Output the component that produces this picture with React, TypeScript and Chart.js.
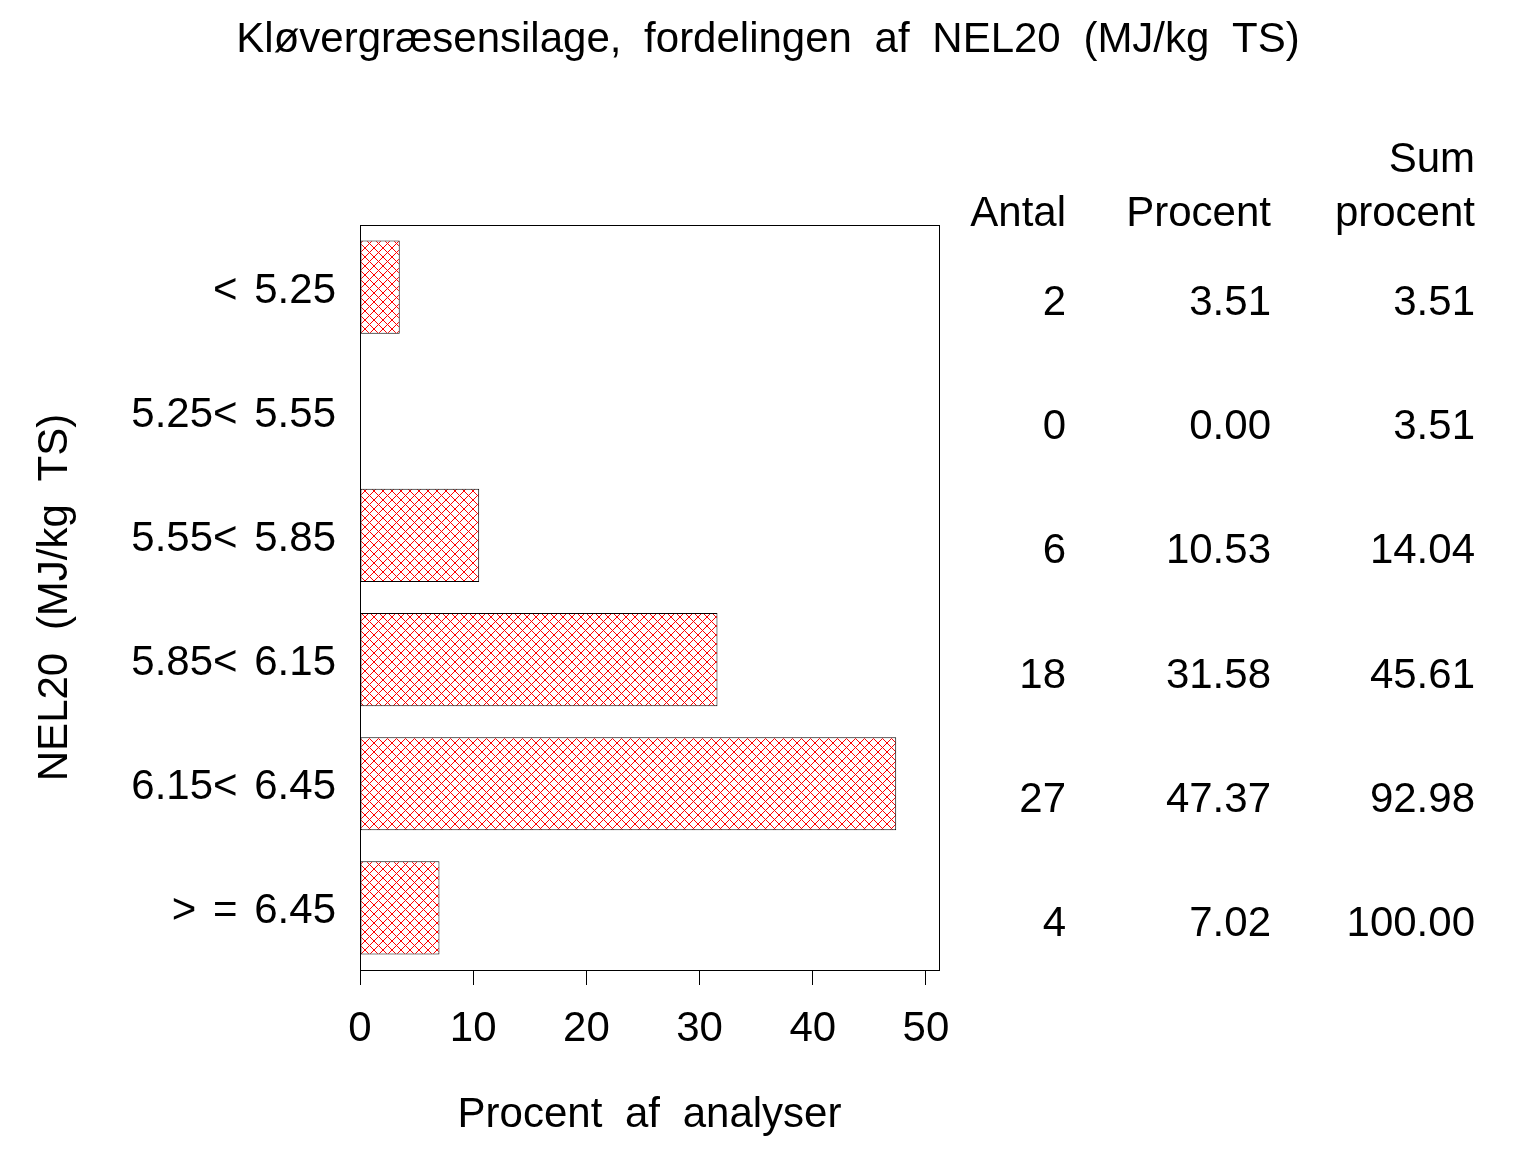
import React, { useEffect, useRef } from 'react';
import { Chart, registerables } from 'chart.js';

Chart.register(...registerables);

const titleText = 'Kløvergræsensilage, fordelingen af NEL20 (MJ/kg TS)';
const categories = ['< 5.25', '5.25< 5.55', '5.55< 5.85', '5.85< 6.15', '6.15< 6.45', '> = 6.45'];
const antal = [2, 0, 6, 18, 27, 4];
const procent = [3.51, 0.0, 10.53, 31.58, 47.37, 7.02];
const sumProcent = [3.51, 3.51, 14.04, 45.61, 92.98, 100.0];
const xTickValues = [0, 10, 20, 30, 40, 50];
const xAxisTitle = 'Procent af analyser';
const yAxisTitle = 'NEL20 (MJ/kg TS)';
const tableHeaderTop = ['', '', 'Sum'];
const tableHeaderBottom = ['Antal', 'Procent', 'procent'];

const FONT_FAMILY = '"Liberation Sans", Arial, Helvetica, sans-serif';
const W = 1536;
const H = 1152;
const WIDE_SPACING = '11px';
const LABEL_SPACING = '5px';

function makePattern(ctx: CanvasRenderingContext2D): CanvasPattern | string {
  const c = document.createElement('canvas');
  c.width = 9;
  c.height = 9;
  const p = c.getContext('2d');
  if (!p) return '#ffffff';
  p.fillStyle = '#ffffff';
  p.fillRect(0, 0, 9, 9);
  p.fillStyle = '#ff0000';
  for (let i = 0; i < 9; i++) {
    p.fillRect(i, i, 1, 1);
    p.fillRect(i, (9 - i) % 9, 1, 1);
  }
  return ctx.createPattern(c, 'repeat') || '#ffffff';
}

function setSpacing(c: any, v: string) {
  try { c.wordSpacing = v; } catch (e) { /* ignore */ }
}

export default function App() {
  const ref = useRef<HTMLCanvasElement | null>(null);

  useEffect(() => {
    const canvas = ref.current;
    if (!canvas) return;
    const ctx = canvas.getContext('2d');
    if (!ctx) return;
    const pattern = makePattern(ctx);

    const decorPlugin = {
      id: 'decor',
      beforeDraw(chart: any) {
        const c = chart.ctx as any;
        c.save();
        c.fillStyle = '#ffffff';
        c.fillRect(0, 0, chart.width, chart.height);
        c.restore();
        setSpacing(c, '0px');
        Object.values(chart.scales).forEach((scale: any) => {
          if (scale.__wrapped) return;
          const origTitle = scale.drawTitle;
          scale.drawTitle = function (...args: any[]) {
            const cc = this.ctx as any;
            setSpacing(cc, WIDE_SPACING);
            origTitle.apply(this, args);
            setSpacing(cc, '0px');
          };
          const origLabels = scale.drawLabels;
          scale.drawLabels = function (...args: any[]) {
            const cc = this.ctx as any;
            setSpacing(cc, LABEL_SPACING);
            origLabels.apply(this, args);
            setSpacing(cc, '0px');
          };
          scale.__wrapped = true;
        });
      },
      afterDraw(chart: any) {
        const c = chart.ctx as any;
        const area = chart.chartArea;
        const yScale = chart.scales.y;
        c.save();
        // frame
        c.strokeStyle = '#000000';
        c.lineWidth = 1;
        c.strokeRect(Math.round(area.left) + 0.5, Math.round(area.top) + 0.5,
          Math.round(area.right - area.left), Math.round(area.bottom - area.top));
        // title
        c.fillStyle = '#000000';
        c.font = '42px ' + FONT_FAMILY;
        setSpacing(c, WIDE_SPACING);
        c.textAlign = 'center';
        c.textBaseline = 'alphabetic';
        c.fillText(titleText, 768, 52);
        setSpacing(c, '0px');
        // table
        const colRight = [1066, 1271, 1475];
        c.textAlign = 'right';
        for (let k = 0; k < 3; k++) {
          if (tableHeaderTop[k]) c.fillText(tableHeaderTop[k], colRight[k], 172);
          c.fillText(tableHeaderBottom[k], colRight[k], 226);
        }
        for (let i = 0; i < categories.length; i++) {
          const y = yScale.getPixelForValue(i) + 28;
          c.fillText(String(antal[i]), colRight[0], y);
          c.fillText(procent[i].toFixed(2), colRight[1], y);
          c.fillText(sumProcent[i].toFixed(2), colRight[2], y);
        }
        c.restore();
      },
    };

    const chart = new Chart(canvas, {
      type: 'bar',
      data: {
        labels: categories,
        datasets: [
          {
            data: procent,
            backgroundColor: pattern as any,
            borderColor: '#000000',
            borderWidth: 1,
            borderSkipped: false,
            barPercentage: 0.75,
            categoryPercentage: 1,
          },
        ],
      },
      options: {
        indexAxis: 'y',
        responsive: false,
        animation: false,
        devicePixelRatio: 1,
        layout: { padding: { left: 0, top: 225, right: 597, bottom: 0 } },
        plugins: {
          legend: { display: false },
          title: { display: false },
          tooltip: { enabled: false },
        },
        scales: {
          x: {
            type: 'linear',
            min: 0,
            max: 51.15,
            afterFit(scale: any) { scale.height = 182; },
            afterBuildTicks(scale: any) {
              scale.ticks = xTickValues.map((v) => ({ value: v }));
            },
            ticks: {
              stepSize: 10,
              includeBounds: false,
              color: '#000000',
              padding: 19,
              font: { family: FONT_FAMILY, size: 42 },
              maxRotation: 0,
            },
            grid: {
              display: true,
              drawOnChartArea: false,
              drawTicks: true,
              tickLength: 15,
              color: '#000000',
              lineWidth: 1,
            },
            border: { display: true, color: '#000000', width: 1 },
            title: {
              display: true,
              text: xAxisTitle,
              color: '#000000',
              font: { family: FONT_FAMILY, size: 42 },
              padding: { top: 0, bottom: 11 },
            },
          },
          y: {
            type: 'category',
            afterFit(scale: any) { scale.width = 360; },
            ticks: {
              color: '#000000',
              padding: 24,
              labelOffset: 4,
              font: { family: FONT_FAMILY, size: 42 },
            },
            grid: { display: false, drawTicks: false },
            border: { display: true, color: '#000000', width: 1 },
            title: {
              display: true,
              text: yAxisTitle,
              color: '#000000',
              font: { family: FONT_FAMILY, size: 42 },
              padding: { top: 30, bottom: 0 },
            },
          },
        },
      },
      plugins: [decorPlugin],
    });

    return () => {
      chart.destroy();
    };
  }, []);

  return (
    <div style={{ position: 'absolute', left: 0, top: 0, width: W, height: H, background: '#ffffff' }}>
      <canvas ref={ref} width={W} height={H} style={{ display: 'block', width: W, height: H }} />
    </div>
  );
}
